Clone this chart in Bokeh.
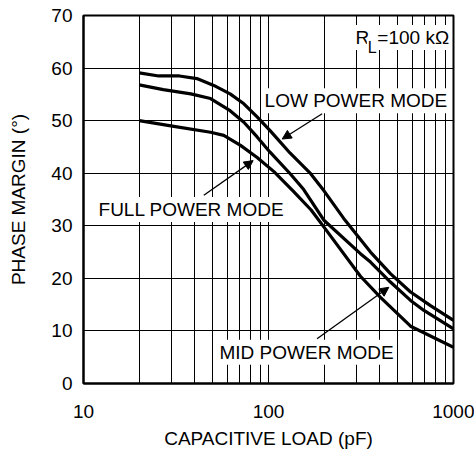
from bokeh.plotting import figure
from bokeh.models import FixedTicker, Label, Arrow, NormalHead
from bokeh.embed import file_html
from bokeh.resources import INLINE

# Data
low_x = [20, 25.5, 33, 41, 50.6, 62, 73.6, 86.8, 102, 131, 169, 200, 255, 356, 456, 586, 751, 1000]
low_y = [59.1, 58.5, 58.5, 58.0, 56.7, 55.1, 53.2, 50.7, 48.1, 43.8, 39.9, 36.6, 31.4, 25.0, 20.9, 17.4, 14.8, 12.0]

mid_x = [20, 27, 38, 48.6, 62, 73.6, 86.8, 102, 131, 155, 200, 314, 356, 456, 586, 692, 1000]
mid_y = [56.8, 55.9, 55.1, 54.2, 51.9, 49.7, 46.9, 44.0, 39.9, 36.9, 31.0, 24.7, 23.1, 19.3, 15.8, 13.9, 10.4]

full_x = [20, 30.8, 48.6, 57.3, 70.6, 86.8, 107, 136, 170, 200, 314, 403, 586, 1000]
full_y = [50.0, 48.9, 47.8, 47.2, 45.3, 43.0, 40.3, 36.6, 33.0, 29.7, 20.4, 16.4, 10.9, 6.9]

x_major = [10, 100, 1000]
x_minor = [20, 30, 40, 50, 60, 70, 80, 90, 200, 300, 400, 500, 600, 700, 800, 900]
y_major = [0, 10, 20, 30, 40, 50, 60, 70]

FONT = "Liberation Sans"

p = figure(width=474, height=454, x_axis_type="log", x_range=(10, 1000), y_range=(0, 70),
           output_backend="svg", toolbar_location=None,
           min_border_left=83, min_border_right=21, min_border_top=15, min_border_bottom=71)

p.background_fill_color = "white"
p.border_fill_color = "white"
p.outline_line_color = "black"
p.outline_line_width = 2

xt = FixedTicker(ticks=x_major, minor_ticks=x_minor)
yt = FixedTicker(ticks=y_major)
p.xaxis.ticker = xt
p.yaxis.ticker = yt
p.xgrid.ticker = xt
p.ygrid.ticker = yt

for g in (p.xgrid, p.ygrid):
    g.grid_line_color = "black"
    g.grid_line_width = 1
p.xgrid.minor_grid_line_color = "black"
p.xgrid.minor_grid_line_width = 1

for ax in (p.xaxis, p.yaxis):
    ax.axis_line_color = "black"
    ax.axis_line_width = 2
    ax.major_tick_out = 0
    ax.major_tick_in = 0
    ax.minor_tick_out = 0
    ax.minor_tick_in = 0
    ax.major_label_text_font = FONT
    ax.major_label_text_font_size = "19px"
    ax.major_label_text_color = "black"
    ax.axis_label_text_font = FONT
    ax.axis_label_text_font_size = "19px"
    ax.axis_label_text_font_style = "normal"
    ax.axis_label_text_color = "black"

p.xaxis.major_label_overrides = {10: "10", 100: "100", 1000: "1000"}
p.xaxis.axis_label = "CAPACITIVE LOAD (pF)"
p.yaxis.axis_label = "PHASE MARGIN (°)"
p.xaxis.major_label_standoff = 21
p.xaxis.axis_label_standoff = 7
p.yaxis.major_label_standoff = 11
p.yaxis.axis_label_standoff = 19

for xs, ys in ((low_x, low_y), (mid_x, mid_y), (full_x, full_y)):
    p.line(xs, ys, line_color="black", line_width=3.2, line_join="round")


def lab(x, y, text, size="19px", pad=2):
    p.add_layout(Label(x=x, y=y, text=text, text_font=FONT, text_font_size=size,
                       text_color="black", text_align="left", text_baseline="middle",
                       background_fill_color="white", padding=pad))


lab(92.9, 53.8, "LOW POWER MODE")
lab(11.76, 33.1, "FULL POWER MODE")
lab(53.0, 5.95, "MID POWER MODE")
lab(288, 65.8, "R")
lab(340, 64.0, "L", size="16px", pad=1)
lab(378, 65.8, "=100 kΩ")

for xs, ys, xe, ye in ((195, 51.3, 118.6, 46.5),
                       (44.7, 35.8, 82.6, 42.4),
                       (183, 8.5, 447, 18.3)):
    p.add_layout(Arrow(end=NormalHead(size=9, fill_color="black", line_color="black", line_width=1),
                       x_start=xs, y_start=ys, x_end=xe, y_end=ye,
                       line_color="black", line_width=1.3))

open("out.html", "w").write(file_html(p, INLINE))
